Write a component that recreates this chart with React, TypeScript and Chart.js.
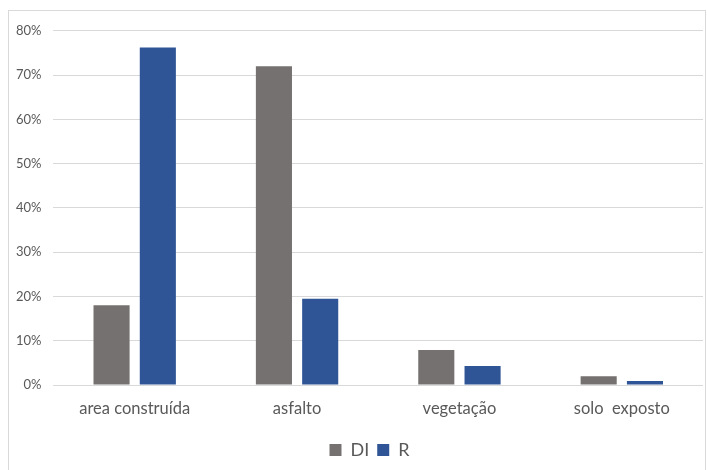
import React, { useEffect, useRef } from "react";
import { Chart, registerables } from "chart.js";

Chart.register(...registerables);

const categories = ["area construída", "asfalto", "vegetação", "solo  exposto"];
const seriesDI = [18, 72, 7.9, 2];
const seriesR = [76.2, 19.5, 4.3, 0.9];
const yTicks = [0, 10, 20, 30, 40, 50, 60, 70, 80];

const legendShift = {
  id: "legendShift",
  afterLayout(chart: any) {
    if (chart.legend) {
      chart.legend.left += 16;
      chart.legend.right += 16;
    }
  },
};

export default function App() {
  const ref = useRef<HTMLCanvasElement>(null);
  useEffect(() => {
    const ctx = ref.current!;
    const chart = new Chart(ctx, {
      type: "bar",
      data: {
        labels: categories,
        datasets: [
          { label: "DI", data: seriesDI, backgroundColor: "#767171", borderWidth: 0, barPercentage: 0.78, categoryPercentage: 0.57 },
          { label: "R", data: seriesR, backgroundColor: "#2F5597", borderWidth: 0, barPercentage: 0.78, categoryPercentage: 0.57 },
        ],
      },
      plugins: [legendShift],
      options: {
        responsive: false,
        animation: false,
        layout: { padding: { top: 6, right: 2, left: 0, bottom: 1 } },
        plugins: {
          legend: {
            position: "bottom",
            labels: {
              boxWidth: 12,
              boxHeight: 12,
              padding: 8,
              color: "#595959",
              font: { family: "Lato", size: 18 },
            },
          },
          tooltip: { enabled: false },
        },
        scales: {
          x: {
            grid: { display: false, drawTicks: false },
            border: { display: false },
            ticks: {
              color: "#595959",
              font: { family: "Lato", size: 16.5, lineHeight: "16px" },
              padding: 16,
            },
          },
          y: {
            min: 0,
            max: 80,
            afterBuildTicks: (axis: any) => {
              axis.ticks = yTicks.map((v) => ({ value: v }));
            },
            grid: { color: "#d9d9d9", lineWidth: 1, drawTicks: false },
            border: { display: false },
            ticks: {
              color: "#595959",
              font: { family: "Lato", size: 13 },
              padding: 12,
              callback: (v: any) => v + "%",
            },
          },
        },
      },
    });
    return () => chart.destroy();
  }, []);
  return (
    <div
      style={{
        position: "fixed",
        left: 8,
        top: 10,
        width: 698,
        height: 480,
        border: "1px solid #d9d9d9",
        boxSizing: "border-box",
        background: "#fff",
      }}
    >
      <canvas
        ref={ref}
        width={701}
        height={459}
        style={{ display: "block", position: "absolute", left: -5, top: 0 }}
      />
    </div>
  );
}
